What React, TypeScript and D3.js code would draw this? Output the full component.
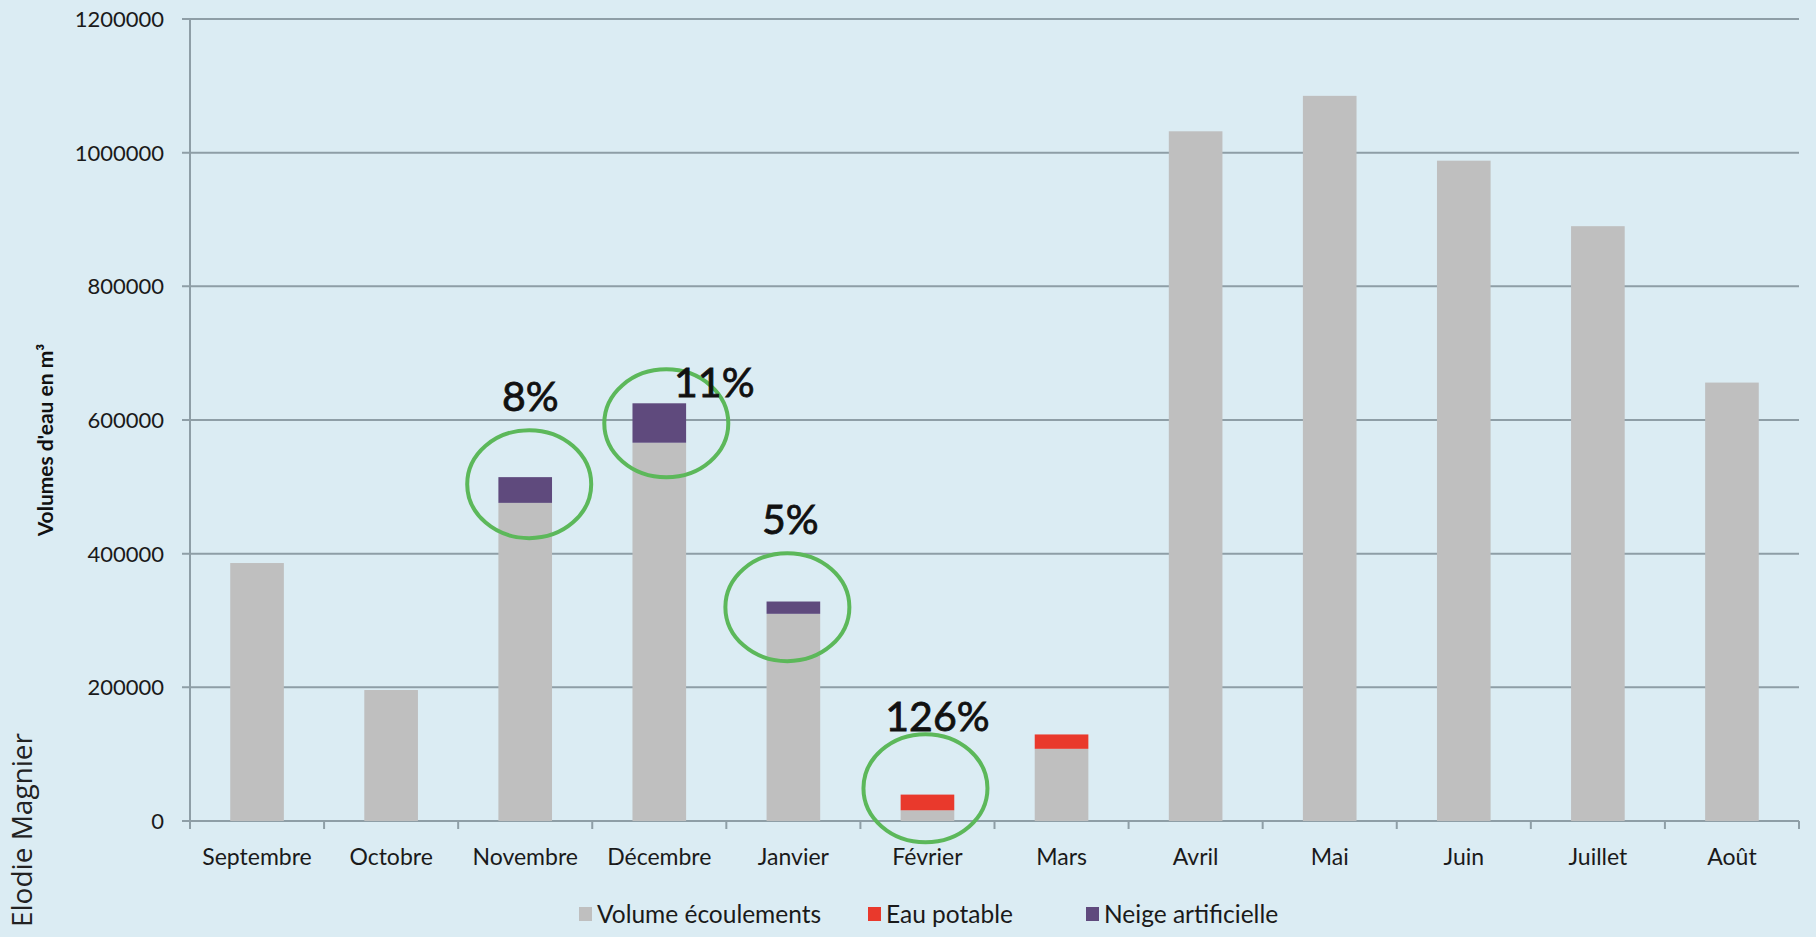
import { useEffect, useRef } from "react";
import * as d3 from "d3";

const mois = [
  "Septembre", "Octobre", "Novembre", "Décembre", "Janvier", "Février",
  "Mars", "Avril", "Mai", "Juin", "Juillet", "Août",
];
const volumeEcoulements = [386000, 196000, 476000, 566000, 310000, 16000, 108000, 1032000, 1085000, 988000, 890000, 656000];
const eauPotable = [0, 0, 0, 0, 0, 23500, 21500, 0, 0, 0, 0, 0];
const neigeArtificielle = [0, 0, 38500, 59000, 18400, 0, 0, 0, 0, 0, 0, 0];
const graduations = [0, 200000, 400000, 600000, 800000, 1000000, 1200000];
const nomsSeries = ["Volume écoulements", "Eau potable", "Neige artificielle"];

// Annotations : mois entouré, pourcentage, centre de l'ellipse et hauteur du texte (en m³)
const annotMois = ["Novembre", "Décembre", "Janvier", "Février"];
const annotTextes = ["8%", "11%", "5%", "126%"];
const annotCentres = [504000, 595000, 320000, 49000];
const annotHauteurs = [614000, 634000, 430000, 134000];

const W = 1816;
const H = 937;
const COULEURS = ["#bfbfbf", "#e9392c", "#5f4a7d"];
const POLICE = "Lato, 'Liberation Sans', sans-serif";

export default function App() {
  const svgRef = useRef<SVGSVGElement>(null);

  useEffect(() => {
    if (!svgRef.current) return;
    const svg = d3.select(svgRef.current);
    svg.selectAll("*").remove();

    const marge = { top: 19, right: 17, bottom: 116, left: 190 };
    const largeur = W - marge.left - marge.right;
    const hauteur = H - marge.top - marge.bottom;

    svg.append("rect").attr("width", W).attr("height", H).attr("fill", "#dbecf3");

    const g = svg.append("g").attr("transform", `translate(${marge.left},${marge.top})`);

    const x = d3.scaleBand().domain(mois).range([0, largeur]).paddingInner(0.6).paddingOuter(0.3);
    const pas = x.step();
    const y = d3.scaleLinear().domain([0, 1200000]).range([hauteur, 0]);

    // grille
    g.selectAll("line.grille")
      .data(graduations)
      .enter()
      .append("line")
      .attr("x1", -8)
      .attr("x2", largeur)
      .attr("y1", (d) => y(d))
      .attr("y2", (d) => y(d))
      .attr("stroke", "#8e9ea6")
      .attr("stroke-width", 2);

    g.selectAll("text.grad")
      .data(graduations)
      .enter()
      .append("text")
      .attr("x", -26)
      .attr("y", (d) => y(d))
      .attr("dy", "0.36em")
      .attr("text-anchor", "end")
      .attr("font-family", POLICE)
      .attr("font-size", 22)
      .attr("fill", "#1a1a1a")
      .text((d) => String(d));

    // axe vertical + ticks du bas
    g.append("line").attr("x1", 0).attr("x2", 0).attr("y1", 0).attr("y2", hauteur + 8).attr("stroke", "#8e9ea6").attr("stroke-width", 2);
    g.selectAll("line.tickx")
      .data(mois)
      .enter()
      .append("line")
      .attr("x1", (d) => (x(d) || 0) - (pas - x.bandwidth()) / 2 + pas)
      .attr("x2", (d) => (x(d) || 0) - (pas - x.bandwidth()) / 2 + pas)
      .attr("y1", hauteur)
      .attr("y2", hauteur + 8)
      .attr("stroke", "#8e9ea6")
      .attr("stroke-width", 2);

    // barres empilées
    const lignes = mois.map((m, i) => ({
      mois: m,
      v: volumeEcoulements[i],
      e: eauPotable[i],
      n: neigeArtificielle[i],
    }));
    const pile = d3.stack<any>().keys(["v", "e", "n"])(lignes);
    pile.forEach((serie, k) => {
      g.selectAll(`rect.s${k}`)
        .data(serie.filter((d) => d[1] - d[0] > 0))
        .enter()
        .append("rect")
        .attr("x", (d) => x(d.data.mois) || 0)
        .attr("width", x.bandwidth())
        .attr("y", (d) => y(d[1]))
        .attr("height", (d) => y(d[0]) - y(d[1]))
        .attr("fill", COULEURS[k]);
    });

    // étiquettes des mois
    g.selectAll("text.mois")
      .data(mois)
      .enter()
      .append("text")
      .attr("x", (d) => (x(d) || 0) + x.bandwidth() / 2)
      .attr("y", hauteur + 44)
      .attr("text-anchor", "middle")
      .attr("font-family", POLICE)
      .attr("font-size", 23)
      .attr("fill", "#1a1a1a")
      .text((d) => d);

    // annotations vertes
    const decalEllipse = [4, 7, -6, -2];
    const decalTexte = [5, 55, -3, 10];
    annotMois.forEach((m, i) => {
      const cx = (x(m) || 0) + x.bandwidth() / 2;
      g.append("ellipse")
        .attr("cx", cx + decalEllipse[i])
        .attr("cy", y(annotCentres[i]))
        .attr("rx", 62)
        .attr("ry", 54)
        .attr("fill", "none")
        .attr("stroke", "#5cb85a")
        .attr("stroke-width", 4);
      g.append("text")
        .attr("x", cx + decalTexte[i])
        .attr("y", y(annotHauteurs[i]))
        .attr("text-anchor", "middle")
        .attr("font-family", POLICE)
        .attr("font-size", 41)
        .attr("fill", "#111")
        .attr("stroke", "#111")
        .attr("stroke-width", 0.8)
        .text(annotTextes[i]);
    });

    // légende
    const leg = svg.append("g").attr("transform", `translate(579,914)`);
    const posLeg = [0, 289, 507];
    nomsSeries.forEach((nom, k) => {
      const it = leg.append("g").attr("transform", `translate(${posLeg[k]},0)`);
      it.append("rect").attr("x", 0).attr("y", -7).attr("width", 13).attr("height", 14).attr("fill", COULEURS[k]);
      it.append("text")
        .attr("x", 18)
        .attr("y", 0)
        .attr("dy", "0.36em")
        .attr("font-family", POLICE)
        .attr("font-size", 24.5)
        .attr("fill", "#1a1a1a")
        .text(nom);
    });

    // titre de l'axe Y
    svg.append("text")
      .attr("transform", `translate(45,440) rotate(-90)`)
      .attr("text-anchor", "middle")
      .attr("dy", "0.36em")
      .attr("font-family", POLICE)
      .attr("font-weight", 700)
      .attr("font-size", 21)
      .attr("fill", "#111")
      .text("Volumes d'eau en m³");

    // signature
    svg.append("text")
      .attr("transform", `translate(22,830) rotate(-90)`)
      .attr("text-anchor", "middle")
      .attr("dy", "0.36em")
      .attr("font-family", "'Open Sans', 'Noto Sans', sans-serif")
      .attr("font-size", 28)
      .attr("fill", "#222")
      .text("Elodie Magnier");
  }, []);

  return (
    <svg
      ref={svgRef}
      width={W}
      height={H}
      viewBox={`0 0 ${W} ${H}`}
      style={{ position: "absolute", left: 0, top: 0, display: "block" }}
    />
  );
}
